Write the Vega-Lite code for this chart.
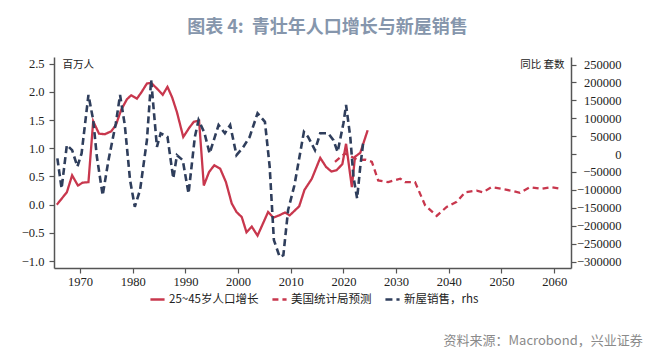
{
  "$schema": "https://vega.github.io/schema/vega-lite/v6.json",
  "width": 517,
  "height": 211,
  "autosize": {"type": "none"},
  "padding": {"left": 54, "top": 57, "right": 99, "bottom": 87},
  "background": "white",
  "title": {
    "text": "图表 4:\u00a0\u00a0青壮年人口增长与新屋销售",
    "font": "Noto Sans CJK SC",
    "fontSize": 18,
    "fontWeight": "bold",
    "color": "#8696ac",
    "anchor": "middle",
    "frame": "group",
    "dx": 15,
    "offset": 20
  },
  "config": {
    "view": {"stroke": null},
    "axis": {
      "grid": false,
      "domainColor": "#555555",
      "domainWidth": 1.5,
      "tickColor": "#555555",
      "tickWidth": 1.2,
      "tickSize": 5,
      "labelFont": "Liberation Serif",
      "labelFontSize": 12.5,
      "labelColor": "#222222",
      "titleFont": "Noto Sans CJK SC",
      "titleFontWeight": "normal",
      "titleFontSize": 10.5,
      "titleColor": "#222222"
    }
  },
  "datasets": {
    "left": [
      {"series": "25~45岁人口增长", "year": 1965.6, "value": 0.0},
      {"series": "25~45岁人口增长", "year": 1967.5, "value": 0.22},
      {"series": "25~45岁人口增长", "year": 1968.5, "value": 0.52},
      {"series": "25~45岁人口增长", "year": 1969.6, "value": 0.34},
      {"series": "25~45岁人口增长", "year": 1970.5, "value": 0.39},
      {"series": "25~45岁人口增长", "year": 1971.6, "value": 0.4},
      {"series": "25~45岁人口增长", "year": 1972.5, "value": 1.48},
      {"series": "25~45岁人口增长", "year": 1973.6, "value": 1.26},
      {"series": "25~45岁人口增长", "year": 1974.7, "value": 1.25},
      {"series": "25~45岁人口增长", "year": 1975.9, "value": 1.3},
      {"series": "25~45岁人口增长", "year": 1976.8, "value": 1.41},
      {"series": "25~45岁人口增长", "year": 1977.8, "value": 1.68},
      {"series": "25~45岁人口增长", "year": 1978.9, "value": 1.87},
      {"series": "25~45岁人口增长", "year": 1979.7, "value": 1.94},
      {"series": "25~45岁人口增长", "year": 1980.8, "value": 1.88},
      {"series": "25~45岁人口增长", "year": 1981.7, "value": 2.0},
      {"series": "25~45岁人口增长", "year": 1982.7, "value": 2.15},
      {"series": "25~45岁人口增长", "year": 1983.5, "value": 2.16},
      {"series": "25~45岁人口增长", "year": 1984.6, "value": 2.06},
      {"series": "25~45岁人口增长", "year": 1985.7, "value": 1.95},
      {"series": "25~45岁人口增长", "year": 1986.6, "value": 2.09},
      {"series": "25~45岁人口增长", "year": 1987.5, "value": 1.9},
      {"series": "25~45岁人口增长", "year": 1988.4, "value": 1.64},
      {"series": "25~45岁人口增长", "year": 1989.6, "value": 1.2},
      {"series": "25~45岁人口增长", "year": 1990.7, "value": 1.36},
      {"series": "25~45岁人口增长", "year": 1991.6, "value": 1.47},
      {"series": "25~45岁人口增长", "year": 1992.6, "value": 1.49},
      {"series": "25~45岁人口增长", "year": 1993.5, "value": 0.34},
      {"series": "25~45岁人口增长", "year": 1994.5, "value": 0.58},
      {"series": "25~45岁人口增长", "year": 1995.5, "value": 0.7},
      {"series": "25~45岁人口增长", "year": 1996.6, "value": 0.64},
      {"series": "25~45岁人口增长", "year": 1997.7, "value": 0.4},
      {"series": "25~45岁人口增长", "year": 1998.8, "value": 0.02},
      {"series": "25~45岁人口增长", "year": 1999.7, "value": -0.13},
      {"series": "25~45岁人口增长", "year": 2000.7, "value": -0.22},
      {"series": "25~45岁人口增长", "year": 2001.6, "value": -0.49},
      {"series": "25~45岁人口增长", "year": 2002.6, "value": -0.39},
      {"series": "25~45岁人口增长", "year": 2003.7, "value": -0.55},
      {"series": "25~45岁人口增长", "year": 2004.7, "value": -0.34},
      {"series": "25~45岁人口增长", "year": 2005.7, "value": -0.13},
      {"series": "25~45岁人口增长", "year": 2006.7, "value": -0.23},
      {"series": "25~45岁人口增长", "year": 2007.8, "value": -0.19},
      {"series": "25~45岁人口增长", "year": 2008.9, "value": -0.14},
      {"series": "25~45岁人口增长", "year": 2009.8, "value": -0.19},
      {"series": "25~45岁人口增长", "year": 2011.6, "value": -0.03},
      {"series": "25~45岁人口增长", "year": 2012.6, "value": 0.26},
      {"series": "25~45岁人口增长", "year": 2014.0, "value": 0.46},
      {"series": "25~45岁人口增长", "year": 2015.6, "value": 0.83},
      {"series": "25~45岁人口增长", "year": 2016.7, "value": 0.67},
      {"series": "25~45岁人口增长", "year": 2017.7, "value": 0.59},
      {"series": "25~45岁人口增长", "year": 2018.7, "value": 0.61},
      {"series": "25~45岁人口增长", "year": 2019.8, "value": 0.72},
      {"series": "25~45岁人口增长", "year": 2020.5, "value": 1.08},
      {"series": "25~45岁人口增长", "year": 2021.6, "value": 0.31},
      {"series": "25~45岁人口增长", "year": 2022.2, "value": 0.85},
      {"series": "25~45岁人口增长", "year": 2023.2, "value": 0.92},
      {"series": "25~45岁人口增长", "year": 2024.6, "value": 1.32},
      {"series": "美国统计局预测", "year": 2018.4, "value": 0.76},
      {"series": "美国统计局预测", "year": 2020.3, "value": 0.91},
      {"series": "美国统计局预测", "year": 2022.8, "value": 0.79},
      {"series": "美国统计局预测", "year": 2024.1, "value": 0.8},
      {"series": "美国统计局预测", "year": 2025.4, "value": 0.76},
      {"series": "美国统计局预测", "year": 2026.6, "value": 0.43},
      {"series": "美国统计局预测", "year": 2028.5, "value": 0.4},
      {"series": "美国统计局预测", "year": 2030.8, "value": 0.46},
      {"series": "美国统计局预测", "year": 2031.7, "value": 0.4},
      {"series": "美国统计局预测", "year": 2033.6, "value": 0.4},
      {"series": "美国统计局预测", "year": 2035.5, "value": -0.01},
      {"series": "美国统计局预测", "year": 2037.7, "value": -0.2},
      {"series": "美国统计局预测", "year": 2039.6, "value": -0.04},
      {"series": "美国统计局预测", "year": 2041.5, "value": 0.05},
      {"series": "美国统计局预测", "year": 2043.1, "value": 0.22},
      {"series": "美国统计局预测", "year": 2045.3, "value": 0.25},
      {"series": "美国统计局预测", "year": 2046.5, "value": 0.22},
      {"series": "美国统计局预测", "year": 2048.1, "value": 0.31},
      {"series": "美国统计局预测", "year": 2050.0, "value": 0.28},
      {"series": "美国统计局预测", "year": 2052.3, "value": 0.24},
      {"series": "美国统计局预测", "year": 2053.5, "value": 0.21},
      {"series": "美国统计局预测", "year": 2055.4, "value": 0.31},
      {"series": "美国统计局预测", "year": 2057.6, "value": 0.28},
      {"series": "美国统计局预测", "year": 2059.5, "value": 0.31},
      {"series": "美国统计局预测", "year": 2060.8, "value": 0.29}
    ],
    "sales": [
      {"series": "新屋销售，rhs", "year": 1965.7, "value": -12000},
      {"series": "新屋销售，rhs", "year": 1966.5, "value": -96000},
      {"series": "新屋销售，rhs", "year": 1967.5, "value": 25000},
      {"series": "新屋销售，rhs", "year": 1968.5, "value": 11000},
      {"series": "新屋销售，rhs", "year": 1969.5, "value": -35000},
      {"series": "新屋销售，rhs", "year": 1970.3, "value": 2000},
      {"series": "新屋销售，rhs", "year": 1971.6, "value": 165000},
      {"series": "新屋销售，rhs", "year": 1972.5, "value": 95000},
      {"series": "新屋销售，rhs", "year": 1973.2, "value": -7500},
      {"series": "新屋销售，rhs", "year": 1974.3, "value": -115000},
      {"series": "新屋销售，rhs", "year": 1975.4, "value": -17000},
      {"series": "新屋销售，rhs", "year": 1976.8, "value": 86000},
      {"series": "新屋销售，rhs", "year": 1977.6, "value": 165000},
      {"series": "新屋销售，rhs", "year": 1978.5, "value": 81000},
      {"series": "新屋销售，rhs", "year": 1979.5, "value": -73000},
      {"series": "新屋销售，rhs", "year": 1980.4, "value": -147000},
      {"series": "新屋销售，rhs", "year": 1981.4, "value": -100000},
      {"series": "新屋销售，rhs", "year": 1982.7, "value": 39000},
      {"series": "新屋销售，rhs", "year": 1983.5, "value": 207000},
      {"series": "新屋销售，rhs", "year": 1984.6, "value": 20000},
      {"series": "新屋销售，rhs", "year": 1985.3, "value": 58000},
      {"series": "新屋销售，rhs", "year": 1986.6, "value": 48000},
      {"series": "新屋销售，rhs", "year": 1987.7, "value": -68000},
      {"series": "新屋销售，rhs", "year": 1988.4, "value": -3000},
      {"series": "新屋销售，rhs", "year": 1989.5, "value": -17000},
      {"series": "新屋销售，rhs", "year": 1990.6, "value": -110000},
      {"series": "新屋销售，rhs", "year": 1991.8, "value": 48000},
      {"series": "新屋销售，rhs", "year": 1992.5, "value": 95000},
      {"series": "新屋销售，rhs", "year": 1993.6, "value": 60000},
      {"series": "新屋销售，rhs", "year": 1994.6, "value": 2000},
      {"series": "新屋销售，rhs", "year": 1996.3, "value": 81000},
      {"series": "新屋销售，rhs", "year": 1997.5, "value": 58000},
      {"series": "新屋销售，rhs", "year": 1998.5, "value": 81000},
      {"series": "新屋销售，rhs", "year": 1999.7, "value": -3000},
      {"series": "新屋销售，rhs", "year": 2001.0, "value": 20000},
      {"series": "新屋销售，rhs", "year": 2002.2, "value": 48000},
      {"series": "新屋销售，rhs", "year": 2003.7, "value": 114000},
      {"series": "新屋销售，rhs", "year": 2005.1, "value": 90000},
      {"series": "新屋销售，rhs", "year": 2006.0, "value": -35000},
      {"series": "新屋销售，rhs", "year": 2006.8, "value": -240000},
      {"series": "新屋销售，rhs", "year": 2007.9, "value": -287000},
      {"series": "新屋销售，rhs", "year": 2008.6, "value": -282000},
      {"series": "新屋销售，rhs", "year": 2009.5, "value": -156000},
      {"series": "新屋销售，rhs", "year": 2010.7, "value": -87000},
      {"series": "新屋销售，rhs", "year": 2012.5, "value": 62000},
      {"series": "新屋销售，rhs", "year": 2013.3, "value": 48000},
      {"series": "新屋销售，rhs", "year": 2014.6, "value": 11000},
      {"series": "新屋销售，rhs", "year": 2015.6, "value": 58000},
      {"series": "新屋销售，rhs", "year": 2017.1, "value": 58000},
      {"series": "新屋销售，rhs", "year": 2018.1, "value": 39000},
      {"series": "新屋销售，rhs", "year": 2018.9, "value": 6000},
      {"series": "新屋销售，rhs", "year": 2020.0, "value": 86000},
      {"series": "新屋销售，rhs", "year": 2020.5, "value": 137000},
      {"series": "新屋销售，rhs", "year": 2021.3, "value": 48000},
      {"series": "新屋销售，rhs", "year": 2021.9, "value": -63000},
      {"series": "新屋销售，rhs", "year": 2022.6, "value": -124000},
      {"series": "新屋销售，rhs", "year": 2023.2, "value": -35000},
      {"series": "新屋销售，rhs", "year": 2023.7, "value": 25000},
      {"series": "新屋销售，rhs", "year": 2024.5, "value": 20000}
    ]
  },
  "encoding": {
    "x": {
      "field": "year",
      "type": "quantitative",
      "scale": {"domain": [1965.06, 2063.2], "nice": false, "zero": false},
      "axis": {
        "values": [1970, 1980, 1990, 2000, 2010, 2020, 2030, 2040, 2050, 2060],
        "format": "d",
        "labelPadding": 2,
        "title": "资料来源：Macrobond，兴业证券",
        "titleFontSize": 13,
        "titleColor": "#8a8a8a",
        "titleX": 389,
        "titleY": 72,
        "titleAlign": "left",
        "titleBaseline": "middle"
      }
    },
    "color": {
      "field": "series",
      "type": "nominal",
      "scale": {
        "domain": ["25~45岁人口增长", "美国统计局预测", "新屋销售，rhs"],
        "range": ["#c8374d", "#c8374d", "#2f3e5c"]
      },
      "legend": {
        "title": null,
        "orient": "none",
        "legendX": 95,
        "legendY": 234,
        "direction": "horizontal",
        "symbolType": "stroke",
        "symbolSize": 200,
        "symbolStrokeWidth": 2.5,
        "labelFont": "Noto Sans CJK SC",
        "labelFontSize": 11.5,
        "labelColor": "#222222",
        "labelOffset": 3,
        "columnPadding": 8
      }
    },
    "strokeDash": {
      "field": "series",
      "type": "nominal",
      "scale": {
        "domain": ["25~45岁人口增长", "美国统计局预测", "新屋销售，rhs"],
        "range": [[1, 0], [6, 4], [7, 4]]
      }
    }
  },
  "layer": [
    {
      "data": {"name": "left"},
      "mark": {"type": "line", "strokeWidth": 2.3},
      "encoding": {
        "y": {
          "field": "value",
          "type": "quantitative",
          "scale": {"domain": [-1.124, 2.62], "nice": false, "zero": false},
          "axis": {
            "values": [-1, -0.5, 0, 0.5, 1, 1.5, 2, 2.5],
            "format": ".1f",
            "labelPadding": 5,
            "title": "百万人",
            "titleAngle": 0,
            "titleX": 8,
            "titleY": 7,
            "titleAlign": "left",
            "titleBaseline": "middle"
          }
        }
      }
    },
    {
      "data": {"name": "sales"},
      "mark": {"type": "line", "strokeWidth": 2.6},
      "encoding": {
        "y": {
          "field": "value",
          "type": "quantitative",
          "scale": {"domain": [-318000, 271000], "nice": false, "zero": false},
          "axis": {
            "orient": "right",
            "values": [-300000, -250000, -200000, -150000, -100000, -50000, 0, 50000, 100000, 150000, 200000, 250000],
            "format": "d",
            "labelAlign": "right",
            "labelPadding": 45,
            "title": "同比 套数",
            "titleAngle": 0,
            "titleX": -7,
            "titleY": 7,
            "titleAlign": "right",
            "titleBaseline": "middle"
          }
        }
      }
    }
  ],
  "resolve": {"scale": {"y": "independent"}, "axis": {"y": "independent"}}
}
